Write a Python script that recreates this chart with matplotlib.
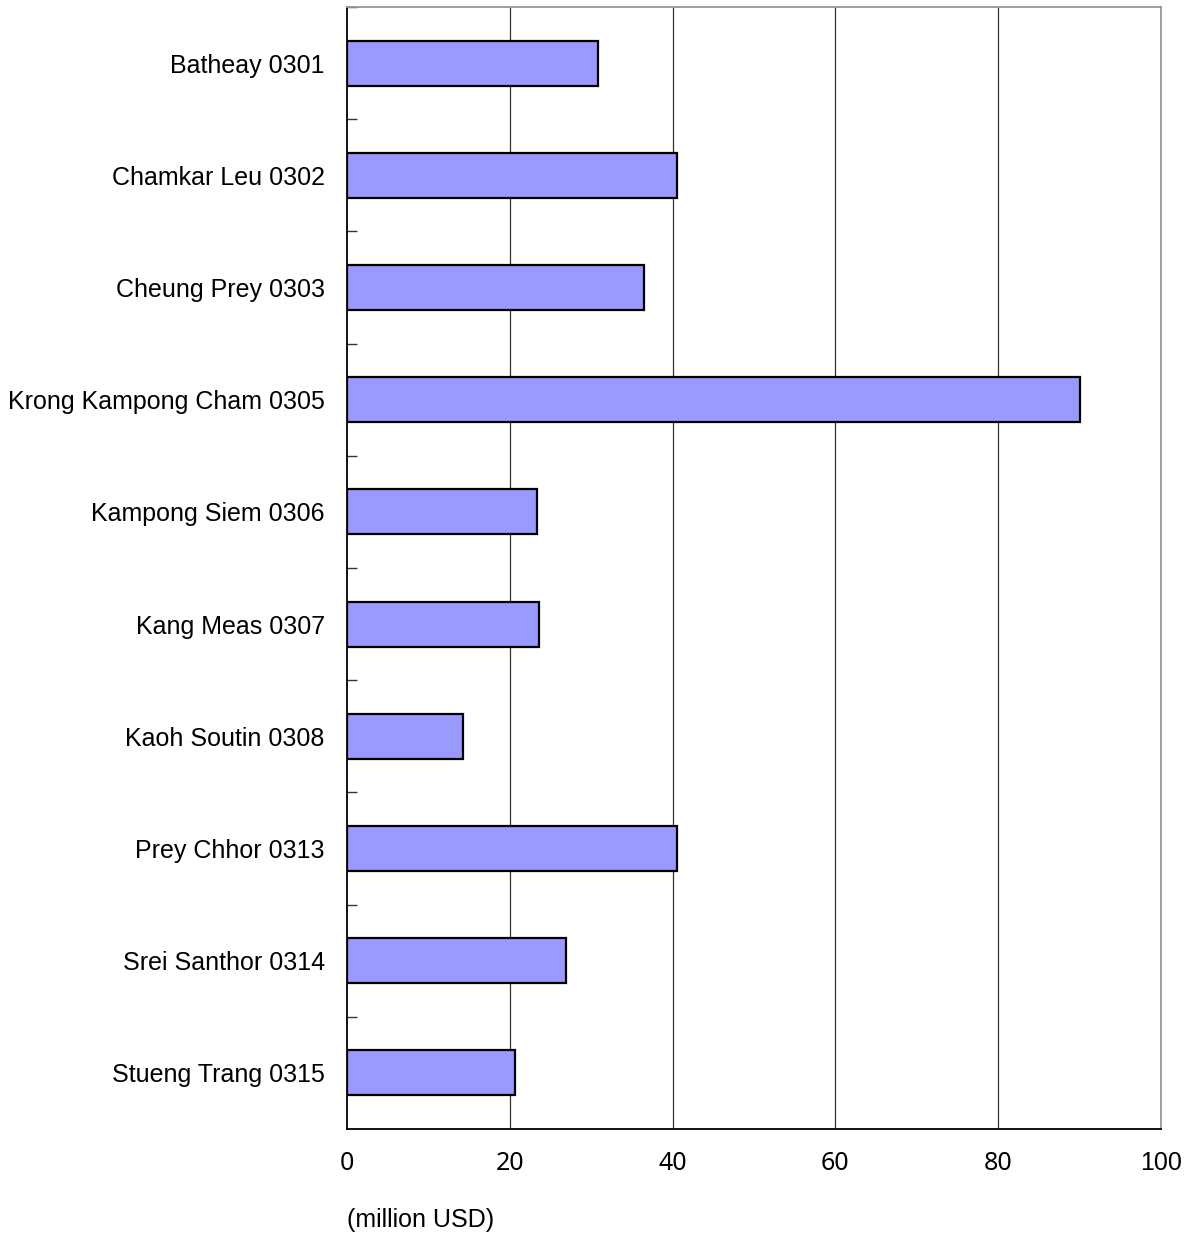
import matplotlib
matplotlib.use("Agg")
import matplotlib.pyplot as plt
import matplotlib.transforms as mtransforms
import numpy as np

categories = ["Batheay 0301", "Chamkar Leu 0302", "Cheung Prey 0303",
              "Krong Kampong Cham 0305", "Kampong Siem 0306", "Kang Meas 0307",
              "Kaoh Soutin 0308", "Prey Chhor 0313", "Srei Santhor 0314",
              "Stueng Trang 0315"]
values = [30.8, 40.5, 36.5, 90.0, 23.3, 23.6, 14.3, 40.5, 26.9, 20.6]
x_ticks = [0, 20, 40, 60, 80, 100]

fig = plt.figure(figsize=(11.89, 12.39), dpi=100)
W, H = 1189, 1239
ax = fig.add_axes([347 / W, 1 - 1129 / H, (1161 - 347) / W, (1129 - 7) / H])

y = np.arange(len(categories))
ax.barh(y, values, height=0.4, color="#9999FF", edgecolor="black", linewidth=1.6, zorder=3)

ax.set_xlim(0, 100)
ax.set_ylim(len(categories) - 0.5, -0.5)

ax.set_xticks(x_ticks)
labels = ax.set_xticklabels([str(t) for t in x_ticks], fontsize=18)
shift = mtransforms.ScaledTranslation(-3 / 100, 0, fig.dpi_scale_trans)
for lab, t in zip(labels, x_ticks):
    lab.set_family("Liberation Sans" if t == 100 else "Noto Sans")
    lab.set_transform(lab.get_transform() + shift)
ax.tick_params(axis="x", length=0, pad=16)
for t in x_ticks[1:-1]:
    ax.axvline(t, color="#333333", linewidth=0.9, zorder=1)

ax.set_yticks(y)
ax.set_yticklabels(categories, family="Liberation Sans", fontsize=18)
ax.tick_params(axis="y", which="major", length=0, pad=16)
ax.set_yticks(np.arange(-0.5, len(categories) - 0.5, 1.0), minor=True)
ax.tick_params(axis="y", which="minor", direction="in", length=7, width=1, color="#333333")

ax.spines["left"].set_color("black")
ax.spines["bottom"].set_color("black")
ax.spines["left"].set_linewidth(1.3)
ax.spines["bottom"].set_linewidth(1.3)
ax.spines["top"].set_color("#999999")
ax.spines["right"].set_color("#999999")
ax.spines["top"].set_linewidth(1.3)
ax.spines["right"].set_linewidth(1.3)

fig.text(347 / W, 1 - 1220 / H, "(million USD)", family="Liberation Sans",
         fontsize=18, ha="left", va="center")

fig.savefig("out.png", dpi=100, facecolor="white")
